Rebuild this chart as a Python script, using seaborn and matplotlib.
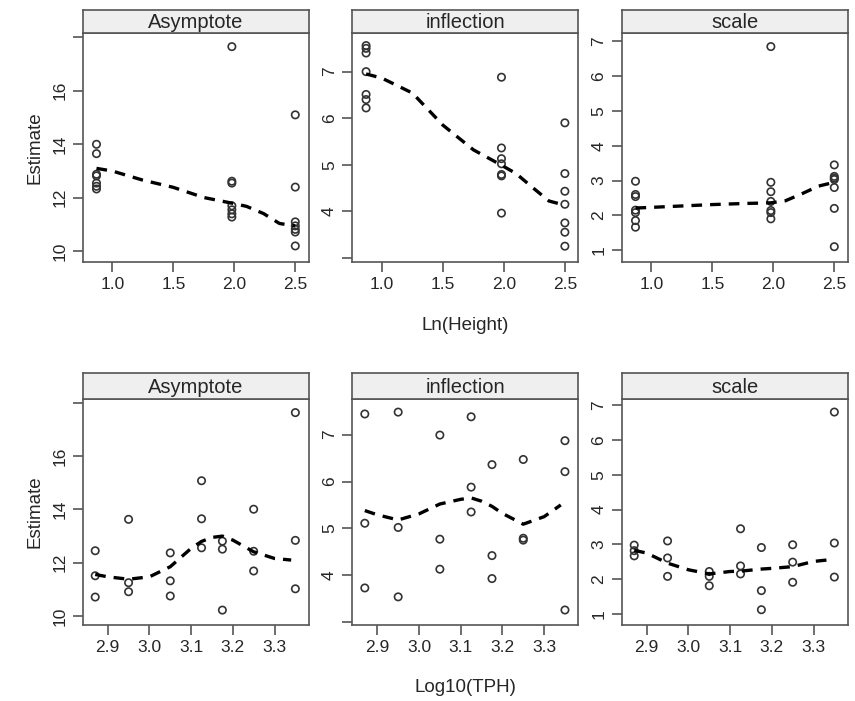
import numpy as np
import pandas as pd
import matplotlib
from matplotlib import pyplot as plt
import seaborn as sns

# x levels
ln_height = [0.87, 1.98, 2.50]
log_tph = [2.87, 2.95, 3.05, 3.125, 3.175, 3.25, 3.35]
params = ["Asymptote", "inflection", "scale"]

# estimates grouped by ln(height) level (7 per level)
height_asym = [[14.0, 13.65, 12.88, 12.82, 12.55, 12.43, 12.33],
               [17.65, 12.62, 12.55, 11.7, 11.55, 11.4, 11.28],
               [15.1, 12.4, 11.1, 10.95, 10.82, 10.72, 10.2]]
height_infl = [[7.56, 7.5, 7.4, 7.0, 6.51, 6.4, 6.22],
               [6.88, 5.36, 5.13, 5.02, 4.79, 4.76, 3.96],
               [5.9, 4.81, 4.43, 4.15, 3.75, 3.55, 3.25]]
height_scale = [[2.98, 2.6, 2.54, 2.15, 2.08, 1.85, 1.66],
                [6.85, 2.95, 2.68, 2.4, 2.14, 2.08, 1.9],
                [3.45, 3.12, 3.07, 3.03, 2.8, 2.2, 1.1]]

# estimates grouped by log10(TPH) level (3 per level)
tph_asym = [[12.45, 11.51, 10.71], [13.63, 11.25, 10.91], [12.37, 11.32, 10.75],
            [15.08, 13.65, 12.56], [12.81, 12.51, 10.22], [14.01, 12.43, 11.69],
            [17.64, 12.84, 11.02]]
tph_infl = [[7.44, 5.11, 3.73], [7.48, 5.02, 3.54], [6.99, 4.77, 4.13],
            [7.38, 5.88, 5.35], [6.36, 4.42, 3.93], [6.47, 4.79, 4.75],
            [6.87, 6.21, 3.26]]
tph_scale = [[2.98, 2.82, 2.67], [3.1, 2.61, 2.08], [2.22, 2.08, 1.81],
             [3.45, 2.38, 2.15], [2.91, 1.67, 1.12], [2.99, 2.49, 1.91],
             [6.81, 3.04, 2.06]]

# smoother curves
height_fit_x = [0.87, 1.0, 1.25, 1.5, 1.75, 1.98, 2.1, 2.24, 2.37, 2.5]
height_asym_fit = [13.1, 13.0, 12.66, 12.39, 12.01, 11.8, 11.68, 11.41, 11.04, 10.95]
height_infl_fit = [6.95, 6.86, 6.54, 5.85, 5.32, 4.99, 4.81, 4.5, 4.22, 4.13]
height_scale_fit = [2.21, 2.23, 2.27, 2.31, 2.34, 2.36, 2.42, 2.63, 2.84, 2.95]

tph_fit_x = [2.87, 2.9, 2.95, 3.0, 3.05, 3.1, 3.125, 3.15, 3.175, 3.2, 3.25, 3.3, 3.34]
tph_asym_fit = [11.56, 11.47, 11.38, 11.47, 11.85, 12.54, 12.8, 12.95, 13.0, 12.85, 12.41, 12.16, 12.1]
tph_infl_fit = [5.38, 5.29, 5.18, 5.31, 5.52, 5.62, 5.65, 5.58, 5.47, 5.32, 5.09, 5.25, 5.5]
tph_scale_fit = [2.83, 2.75, 2.46, 2.27, 2.15, 2.22, 2.23, 2.26, 2.29, 2.31, 2.36, 2.51, 2.56]

sns.set_style("white")
plt.rcParams['font.family'] = ['Liberation Sans', 'DejaVu Sans']


def long_df(levels, groups):
    rows = []
    for lv, vals in zip(levels, groups):
        for v in vals:
            rows.append([lv, v])
    return pd.DataFrame(rows, columns=["x", "Estimate"])


W, H = 855, 701
fig = plt.figure(figsize=(W / 100, H / 100), dpi=100)

col_left = [82.7, 352.3, 621.7]
col_w = 226
rows = [
    dict(top=33, bot=262, strip=10, xlim=(0.757, 2.61), xticks=[1.0, 1.5, 2.0, 2.5],
         levels=ln_height, data=[height_asym, height_infl, height_scale],
         fx=height_fit_x, fits=[height_asym_fit, height_infl_fit, height_scale_fit],
         ylims=[(9.6, 18.16), (2.91, 7.83), (0.66, 7.24)], label="Ln(Height)", label_y=326),
    dict(top=398.5, bot=625, strip=373, xlim=(2.84, 3.382), xticks=[2.9, 3.0, 3.1, 3.2, 3.3],
         levels=log_tph, data=[tph_asym, tph_infl, tph_scale],
         fx=tph_fit_x, fits=[tph_asym_fit, tph_infl_fit, tph_scale_fit],
         ylims=[(9.66, 18.17), (2.94, 7.77), (0.68, 7.2)], label="Log10(TPH)", label_y=688),
]
yticks = [[10, 12, 14, 16, 18], [3, 4, 5, 6, 7], [1, 2, 3, 4, 5, 6, 7]]
ylabels = [["10", "12", "14", "16", ""], ["", "4", "5", "6", "7"],
           ["1", "2", "3", "4", "5", "6", "7"]]

frame_col = "#555555"
for r in rows:
    for j in range(3):
        ax = fig.add_axes([col_left[j] / W, 1 - r["bot"] / H, col_w / W, (r["bot"] - r["top"]) / H])
        df = long_df(r["levels"], r["data"][j])
        sns.scatterplot(ax=ax, data=df, x="x", y="Estimate", marker="o", s=28,
                        facecolor="none", edgecolor="#333333", linewidth=1.2)
        sns.lineplot(ax=ax, x=r["fx"], y=r["fits"][j], color="black", linewidth=2.4,
                     dashes=False, linestyle=(0, (3.2, 2.4)))
        ax.set_xlim(*r["xlim"])
        ax.set_ylim(*r["ylims"][j])
        ax.set_xticks(r["xticks"])
        ax.set_xticklabels([f"{t:.1f}" for t in r["xticks"]])
        ax.set_yticks(yticks[j])
        ax.set_yticklabels(ylabels[j], rotation=90, va="center")
        ax.set_xlabel("")
        ax.set_ylabel("")
        ax.tick_params(axis="both", direction="out", length=7, width=1.2, color=frame_col,
                       labelsize=12.5, left=True, bottom=True, pad=4)
        for sp in ax.spines.values():
            sp.set_color(frame_col)
            sp.set_linewidth(1.2)

        sax = fig.add_axes([col_left[j] / W, 1 - r["top"] / H, col_w / W, (r["top"] - r["strip"]) / H])
        sax.set_facecolor("#efefef")
        sax.set_xticks([])
        sax.set_yticks([])
        for sp in sax.spines.values():
            sp.set_color(frame_col)
            sp.set_linewidth(1.2)
        sax.text(0.5, 0.45, params[j], ha="center", va="center", fontsize=14.5,
                 transform=sax.transAxes)

    fig.text(465 / W, 1 - r["label_y"] / H, r["label"], ha="center", va="center", fontsize=13.5)
    fig.text(35 / W, 1 - (r["top"] + r["bot"]) / 2 / H, "Estimate", rotation=90,
             ha="center", va="center", fontsize=13.5)

plt.savefig("out.png", dpi=100)
